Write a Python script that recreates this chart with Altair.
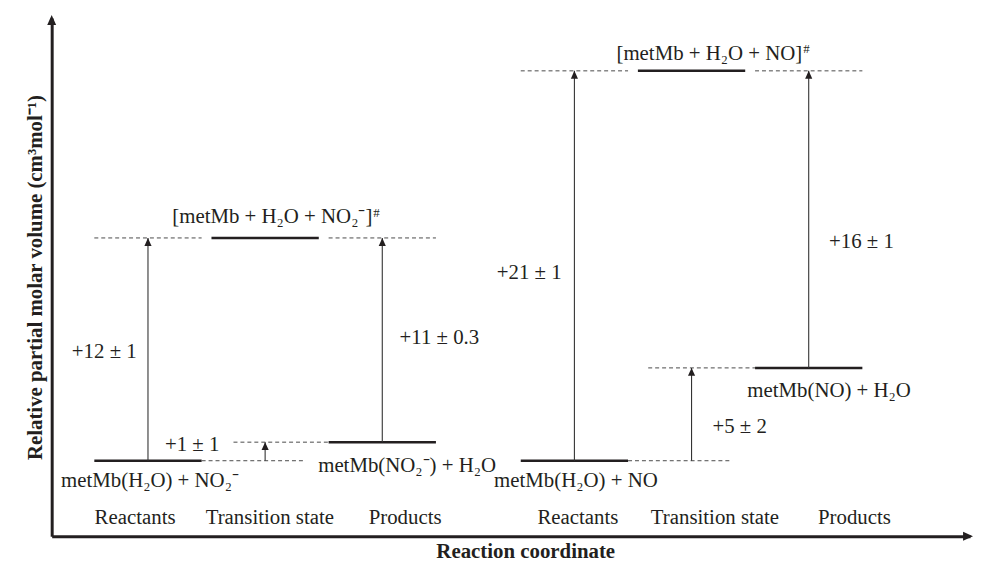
import altair as alt
import pandas as pd

# ---------------- data ----------------
stages = ["Reactants", "Transition state", "Products"]
# relative partial molar volumes (cm3/mol): reactants, transition state, products
left_levels = [0, 12, 1]      # nitrite binding
right_levels = [0, 21, 5]     # NO binding
# stage column centres (reaction-coordinate units)
left_pos = [1.0, 2.0, 3.0]
right_pos = [4.64, 5.64, 6.64]
col_half = 0.458
prod_dash_start = [1.73, 5.27]

left_species = ["metMb(H₂O) + NO₂⁻", "[metMb + H₂O + NO₂⁻]", "metMb(NO₂⁻) + H₂O"]
right_species = ["metMb(H₂O) + NO", "[metMb + H₂O + NO]", "metMb(NO) + H₂O"]
left_deltas = ["+12 ± 1", "+1 ± 1", "+11 ± 0.3"]
right_deltas = ["+21 ± 1", "+5 ± 2", "+16 ± 1"]

# label anchors (x in reaction-coordinate units, y in cm3/mol)
end_species_x = [1.017, 3.212, 4.653, 6.814]
end_species_y = [-1.12, -0.27, -1.07, 3.74]
ts_species_x = [2.915, 6.585]
ts_species_y = [12.78, 21.58]
ts_mark_y = [13.15, 21.95]
delta_x = [0.627, 1.377, 3.487, 4.254, 6.05, 7.09]
delta_y = [5.88, 0.85, 6.63, 10.1, 1.82, 11.76]
stage_label_x = [0.89, 2.04, 3.195, 4.67, 5.84, 7.03]
stage_label_y = -3.1

x_domain = [0.178, 8.017]
y_domain = [-4.064, 23.85]

# ---------------- tables ----------------
solid, dashed, shafts, heads = [], [], [], []
for pos, lev, pstart in [(left_pos, left_levels, prod_dash_start[0]),
                         (right_pos, right_levels, prod_dash_start[1])]:
    r, t, p = lev
    for c, l in zip(pos, lev):
        solid.append(dict(x=c - col_half, x2=c + col_half, y=l))
    dashed += [
        dict(x=pos[0] + col_half, x2=pos[1] + col_half - 0.11, y=r),
        dict(x=pos[0] - col_half, x2=pos[0] + col_half, y=t),
        dict(x=pos[2] - col_half, x2=pos[2] + col_half, y=t),
        dict(x=pstart, x2=pos[2] - col_half, y=p),
    ]
    shafts += [dict(x=pos[0], y=r, y2=t), dict(x=pos[1], y=r, y2=p), dict(x=pos[2], y=p, y2=t)]
    heads += [dict(x=pos[0], y=t), dict(x=pos[1], y=p), dict(x=pos[2], y=t)]

solid_df = pd.DataFrame(solid)
dashed_df = pd.DataFrame(dashed)
shaft_df = pd.DataFrame(shafts)
head_df = pd.DataFrame(heads)

end_df = pd.DataFrame(dict(
    x=end_species_x, y=end_species_y,
    t=[left_species[0], left_species[2], right_species[0], right_species[2]]))
ts_df = pd.DataFrame(dict(x=ts_species_x, y=ts_species_y, t=[left_species[1], right_species[1]]))
tsmark_df = pd.DataFrame(dict(x=ts_species_x, y=ts_mark_y, t=["#", "#"]))
delta_df = pd.DataFrame(dict(x=delta_x, y=delta_y, t=left_deltas + right_deltas))
stage_df = pd.DataFrame(dict(x=stage_label_x, y=[stage_label_y] * 6, t=stages + stages))
xarrow_df = pd.DataFrame(dict(x=[x_domain[1]], y=[y_domain[0]]))
yarrow_df = pd.DataFrame(dict(x=[x_domain[0]], y=[y_domain[1]]))

# ---------------- styling ----------------
ink = "#231f20"
serif = "Liberation Serif"
xs = alt.Scale(domain=x_domain, nice=False, zero=False)
ys = alt.Scale(domain=y_domain, nice=False, zero=False)

x_axis = alt.Axis(title="Reaction coordinate", domain=True, domainColor=ink, domainWidth=3,
                  ticks=False, labels=False, grid=False, titleFont=serif, titleFontSize=21,
                  titleFontWeight="bold", titleColor=ink, titleX=477, titleY=21,
                  titleBaseline="alphabetic")
y_axis = alt.Axis(title="Relative partial molar volume (cm³mol⁻¹)", domain=True, domainColor=ink,
                  domainWidth=3, ticks=False, labels=False, grid=False, titleFont=serif,
                  titleFontSize=21, titleFontWeight="bold", titleColor=ink, titleX=-10,
                  titleBaseline="alphabetic")


def X(field="x"):
    return alt.X(f"{field}:Q", scale=xs, axis=x_axis)


def Y(field="y"):
    return alt.Y(f"{field}:Q", scale=ys, axis=y_axis)


bars = alt.Chart(solid_df).mark_rule(strokeWidth=2.5, color=ink).encode(
    x=X(), x2="x2:Q", y=Y())
dash = alt.Chart(dashed_df).mark_rule(strokeWidth=1, strokeDash=[4, 3], color="#4a4a4a").encode(
    x=X(), x2="x2:Q", y=Y())
shaft = alt.Chart(shaft_df).mark_rule(strokeWidth=1.1, color="#333").encode(
    x=X(), y=Y(), y2="y2:Q")
head = alt.Chart(head_df).mark_point(shape="M0,0L-0.45,1L0.45,1Z", filled=True, size=256,
                                     color=ink, opacity=1, strokeWidth=0).encode(x=X(), y=Y())

xarrow = alt.Chart(xarrow_df).mark_point(shape="M0.3,0L-0.7,-0.45L-0.7,0.45Z", filled=True,
                                         size=400, color=ink, opacity=1, strokeWidth=0,
                                         clip=False).encode(x=X(), y=Y())
yarrow = alt.Chart(yarrow_df).mark_point(shape="M0,-0.3L-0.45,0.7L0.45,0.7Z", filled=True,
                                         size=400, color=ink, opacity=1, strokeWidth=0,
                                         clip=False).encode(x=X(), y=Y())

txt = dict(font=serif, fontSize=21, color=ink)
end_t = alt.Chart(end_df).mark_text(align="center", baseline="middle", **txt).encode(
    x=X(), y=Y(), text="t:N")
ts_t = alt.Chart(ts_df).mark_text(align="right", baseline="alphabetic", **txt).encode(
    x=X(), y=Y(), text="t:N")
tsm_t = alt.Chart(tsmark_df).mark_text(align="left", baseline="alphabetic", font=serif,
                                       fontSize=13, color=ink, dx=1).encode(
    x=X(), y=Y(), text="t:N")
delta_t = alt.Chart(delta_df).mark_text(align="center", baseline="middle", **txt).encode(
    x=X(), y=Y(), text="t:N")
stage_t = alt.Chart(stage_df).mark_text(align="center", baseline="middle", **txt).encode(
    x=X(), y=Y(), text="t:N")

chart = alt.layer(bars, dash, shaft, head, xarrow, yarrow, end_t, ts_t, tsm_t, delta_t, stage_t).properties(
    width=925, height=522,
    autosize=alt.AutoSizeParams(type="none"),
    padding={"left": 44, "top": 8, "right": 3, "bottom": 24},
    background="white",
).configure_view(stroke=None)

chart.save("out.html", embed_options={"renderer": "svg", "actions": False})
